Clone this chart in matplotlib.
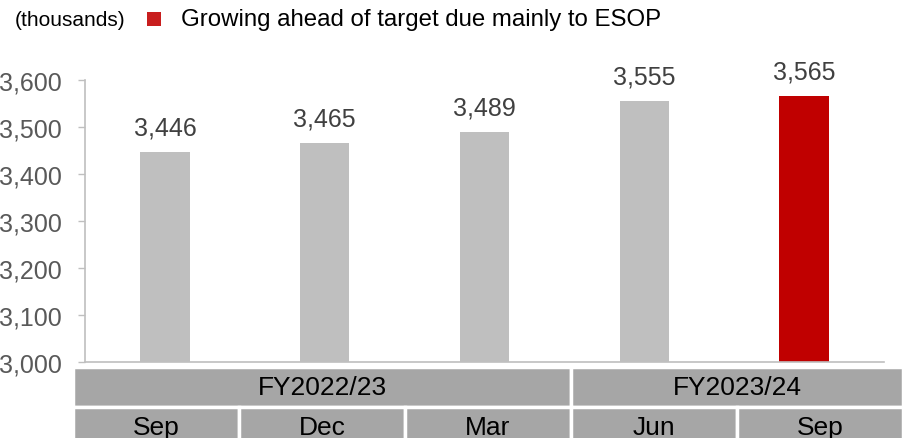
import matplotlib.pyplot as plt
from matplotlib.patches import Rectangle
from matplotlib.ticker import FuncFormatter

plt.rcParams['font.family'] = ['Liberation Sans', 'DejaVu Sans']

# data
months = ['Sep', 'Dec', 'Mar', 'Jun', 'Sep']
values = [3446, 3465, 3489, 3555, 3565]
bar_colors = ['#BFBFBF', '#BFBFBF', '#BFBFBF', '#BFBFBF', '#C00000']
fiscal_years = ['FY2022/23', 'FY2023/24']
fy_spans = [3, 2]
yticks = [3000, 3100, 3200, 3300, 3400, 3500, 3600]

W, H = 909, 439
fig = plt.figure(figsize=(W / 100, H / 100), dpi=100)

def px_box(x0, y0, x1, y1):
    # pixel box (top-left origin) -> figure fraction [l, b, w, h]
    return [x0 / W, 1 - y1 / H, (x1 - x0) / W, (y1 - y0) / H]

ax = fig.add_axes(px_box(85, 81, 884, 363))
x = list(range(len(values)))
ax.bar(x, values, width=0.31, color=bar_colors, zorder=2)
for xi, v in zip(x, values):
    ax.annotate(f'{v:,}', (xi, v), xytext=(0, 9), textcoords='offset points',
                ha='center', va='bottom', fontsize=18, color='#404040')

ax.set_xlim(-0.5, len(values) - 0.5)
ax.set_ylim(3000, 3600)
ax.set_yticks(yticks)
ax.yaxis.set_major_formatter(FuncFormatter(lambda v, p: f'{int(v):,}'))
ax.tick_params(axis='y', labelsize=18, labelcolor='#595959', color='#BFBFBF',
               length=5, width=1, pad=12)
ax.tick_params(axis='x', bottom=False, labelbottom=False)
for s in ['top', 'right']:
    ax.spines[s].set_visible(False)
for s in ['left', 'bottom']:
    ax.spines[s].set_color('#BFBFBF')
    ax.spines[s].set_linewidth(1.2)

# category table under the axis
tab = fig.add_axes(px_box(73, 368, 903, 448))
tab.set_xlim(0, len(months))
tab.set_ylim(0, 2)
tab.axis('off')
start = 0
for fy, span in zip(fiscal_years, fy_spans):
    tab.add_patch(Rectangle((start, 1), span, 1, facecolor='#A6A6A6',
                            edgecolor='white', linewidth=2.5))
    tab.text(start + span / 2, 1.5, fy, ha='center', va='center',
             fontsize=19, color='black')
    start += span
for i, m in enumerate(months):
    tab.add_patch(Rectangle((i, 0), 1, 1, facecolor='#A6A6A6',
                            edgecolor='white', linewidth=2.5))
    tab.text(i + 0.5, 0.5, m, ha='center', va='center', fontsize=19, color='black')

# header line
fig.text(15 / W, 1 - 20 / H, '(thousands)', fontsize=15, color='black',
         ha='left', va='center')
fig.patches.append(Rectangle((147 / W, 1 - 27 / H), 14 / W, 14 / H,
                             transform=fig.transFigure, facecolor='#C81E1E',
                             edgecolor='none'))
fig.text(181 / W, 1 - 20 / H, 'Growing ahead of target due mainly to ESOP',
         fontsize=17.3, color='black', ha='left', va='center')

fig.savefig('out.png', dpi=100)
